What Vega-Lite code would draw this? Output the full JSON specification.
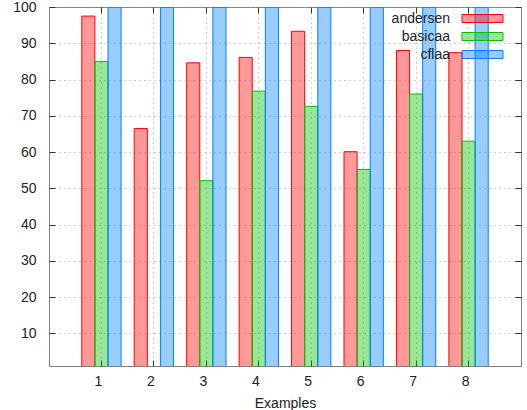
{
  "$schema": "https://vega.github.io/schema/vega-lite/v6.json",
  "width": 472,
  "height": 359,
  "autosize": {"type": "none"},
  "padding": {"left": 49, "top": 7, "right": 6, "bottom": 44},
  "background": "white",
  "config": {
    "view": {"stroke": "#808080", "strokeWidth": 1},
    "font": "Liberation Sans",
    "axis": {
      "labelFont": "Liberation Sans",
      "labelFontSize": 14,
      "labelColor": "#222222",
      "titleFont": "Liberation Sans",
      "titleFontSize": 14,
      "titleFontWeight": "normal",
      "titleColor": "#222222",
      "domain": false,
      "gridColor": "#a0a0a0",
      "gridDash": [1, 4],
      "gridWidth": 1,
      "tickColor": "#333333",
      "tickWidth": 1
    }
  },
  "data": {
    "values": [
      {"example": 1, "method": "andersen", "value": 97.5},
      {"example": 1, "method": "basicaa", "value": 85},
      {"example": 1, "method": "cflaa", "value": 100},
      {"example": 2, "method": "andersen", "value": 66.5},
      {"example": 2, "method": "cflaa", "value": 100},
      {"example": 3, "method": "andersen", "value": 84.6},
      {"example": 3, "method": "basicaa", "value": 52.1},
      {"example": 3, "method": "cflaa", "value": 100},
      {"example": 4, "method": "andersen", "value": 86.1},
      {"example": 4, "method": "basicaa", "value": 76.8},
      {"example": 4, "method": "cflaa", "value": 100},
      {"example": 5, "method": "andersen", "value": 93.3},
      {"example": 5, "method": "basicaa", "value": 72.6},
      {"example": 5, "method": "cflaa", "value": 100},
      {"example": 6, "method": "andersen", "value": 60.1},
      {"example": 6, "method": "basicaa", "value": 55.2},
      {"example": 6, "method": "cflaa", "value": 100},
      {"example": 7, "method": "andersen", "value": 88},
      {"example": 7, "method": "basicaa", "value": 76},
      {"example": 7, "method": "cflaa", "value": 100},
      {"example": 8, "method": "andersen", "value": 87.4},
      {"example": 8, "method": "basicaa", "value": 63},
      {"example": 8, "method": "cflaa", "value": 100}
    ]
  },
  "layer": [
    {
      "mark": {"type": "bar", "clip": true, "fillOpacity": 0.4, "strokeWidth": 1, "orient": "vertical"},
      "encoding": {
        "x": {
          "field": "example",
          "type": "ordinal",
          "scale": {"domain": [1, 2, 3, 4, 5, 6, 7, 8], "paddingInner": 0.25, "paddingOuter": 0.625},
          "axis": {
            "title": "Examples",
            "orient": "bottom",
            "labelAngle": 0,
            "grid": true,
            "bandPosition": 0.5,
            "ticks": true,
            "tickSize": -6,
            "labelPadding": 14,
            "labelOffset": -3,
            "titlePadding": 8
          }
        },
        "xOffset": {
          "field": "method",
          "scale": {"domain": ["andersen", "basicaa", "cflaa"], "paddingInner": 0, "paddingOuter": 0}
        },
        "y": {
          "field": "value",
          "type": "quantitative",
          "scale": {"domain": [1, 100], "nice": false, "zero": false},
          "axis": {
            "title": null,
            "orient": "left",
            "values": [10, 20, 30, 40, 50, 60, 70, 80, 90, 100],
            "grid": true,
            "tickSize": -6,
            "labelPadding": 19
          }
        },
        "fill": {
          "field": "method",
          "type": "nominal",
          "scale": {"domain": ["andersen", "basicaa", "cflaa"], "range": ["#ff0000", "#00c000", "#0080ff"]},
          "legend": {
            "title": null,
            "orient": "none",
            "legendX": 426,
            "legendY": 4,
            "symbolType": "M-2.93,-0.57H2.93V0.57H-2.93Z",
            "symbolSize": 196,
            "symbolStrokeWidth": 1,
            "labelAlign": "right",
            "labelOffset": -40,
            "labelFont": "Liberation Sans",
            "labelFontSize": 14,
            "labelColor": "#222222",
            "rowPadding": 3,
            "encode": {"symbols": {"update": {"fillOpacity": {"value": 0.4}, "strokeOpacity": {"value": 1}}}}
          }
        },
        "stroke": {
          "field": "method",
          "type": "nominal",
          "scale": {"domain": ["andersen", "basicaa", "cflaa"], "range": ["#ff0000", "#00c000", "#0080ff"]},
          "legend": null
        }
      }
    },
    {
      "mark": {"type": "bar", "opacity": 0, "clip": true},
      "encoding": {
        "x": {
          "field": "example",
          "type": "ordinal",
          "axis": {"orient": "top", "title": null, "labels": false, "grid": false, "bandPosition": 0.5, "tickSize": -6}
        },
        "y": {
          "field": "value",
          "type": "quantitative",
          "axis": {"orient": "right", "title": null, "labels": false, "grid": false, "values": [10, 20, 30, 40, 50, 60, 70, 80, 90, 100], "tickSize": -6}
        }
      }
    }
  ],
  "resolve": {"axis": {"x": "independent", "y": "independent"}}
}
